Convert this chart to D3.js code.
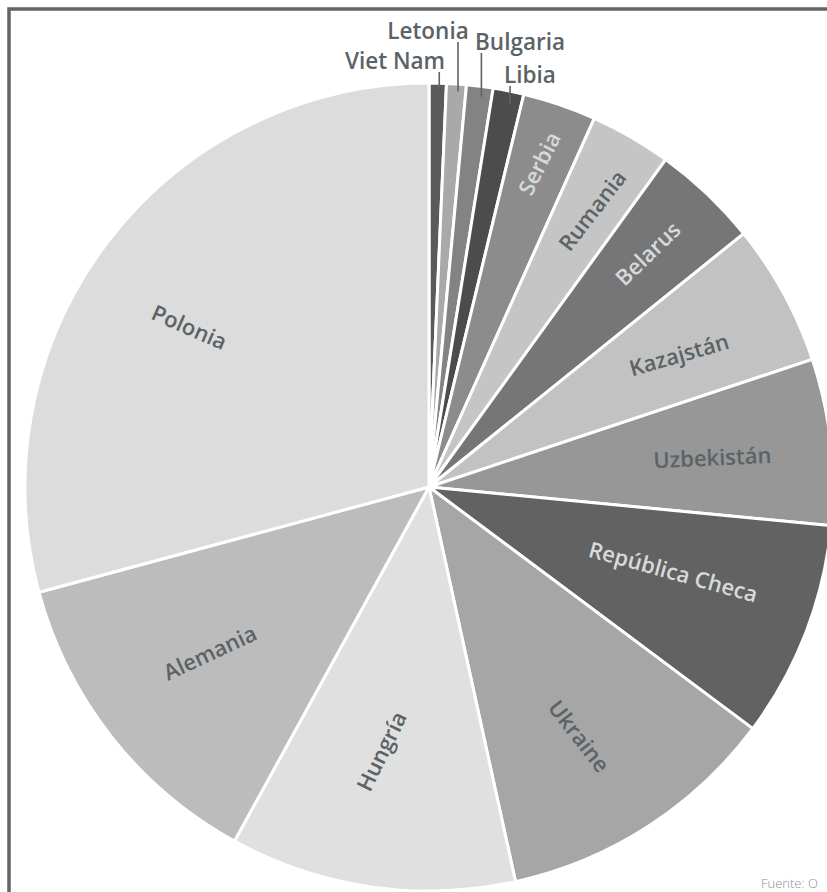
<!DOCTYPE html>
<html>
<head>
<meta charset="utf-8">
<script src="https://cdn.jsdelivr.net/npm/d3@7"></script>
<style>
  html, body { margin: 0; padding: 0; background: #fff; overflow: hidden; }
  svg { display: block; }
</style>
</head>
<body>
<div id="chart"></div>
<script>
// ---- data ----
const categories = ["Viet Nam", "Letonia", "Bulgaria", "Libia", "Serbia", "Rumania", "Belarus",
  "Kazajstán", "Uzbekistán", "República Checa", "Ukraine", "Hungría", "Alemania", "Polonia"];
const values = [0.69, 0.79, 1.06, 1.23, 2.94, 3.25, 4.25, 5.67, 6.64, 8.68, 11.36, 11.43, 12.81, 29.19];
const sourceText = "Fuente: O";

// ---- style / layout (kept separate from data) ----
const sliceColors = ["#5a5a5a", "#a9a9a9", "#838383", "#4c4c4c", "#8c8c8c", "#c5c5c5", "#767676",
  "#c2c2c2", "#979797", "#626262", "#a6a6a6", "#e0e0e0", "#bcbcbc", "#dcdcdc"];
const darkText = "#5b6367";
const lightText = "#d6dadc";
// inner labels: radius (fraction of r), angle offset (deg), rotation (deg), colour
const innerLayout = {
  "Serbia": [0.846, 0, -63.4, lightText],
  "Rumania": [0.795, 0.6, -52.4, darkText],
  "Belarus": [0.792, -0.3, -44, lightText],
  "Kazajstán": [0.70, 0.8, -16, darkText],
  "Uzbekistán": [0.705, 0.6, -2.7, darkText],
  "República Checa": [0.64, -1.9, 15.4, lightText],
  "Ukraine": [0.72, 1.8, 52, darkText],
  "Hungría": [0.665, 1.9, -64, darkText],
  "Alemania": [0.68, 1.0, -24.9, darkText],
  "Polonia": [0.713, -3.8, 23.7, darkText]
};
// outer labels: label centre x, baseline y
const outerLayout = {
  "Viet Nam": [395, 69],
  "Letonia": [428, 39],
  "Bulgaria": [520, 50],
  "Libia": [530, 83]
};

const W = 827, H = 892;
const cx = 429, cy = 487, R = 404;

const svg = d3.select("#chart").append("svg")
  .attr("width", W).attr("height", H);

// frame
svg.append("rect")
  .attr("x", 9).attr("y", 9)
  .attr("width", 1000).attr("height", 1000)
  .attr("fill", "none")
  .attr("stroke", "#5f6669")
  .attr("stroke-width", 3.5);

const pie = d3.pie().sort(null).value(d => d.value);
const arcs = pie(categories.map((c, i) => ({ name: c, value: values[i], color: sliceColors[i] })));
const arc = d3.arc().innerRadius(0).outerRadius(R);

const g = svg.append("g").attr("transform", `translate(${cx},${cy})`);

g.selectAll("path.slice")
  .data(arcs)
  .join("path")
  .attr("class", "slice")
  .attr("d", arc)
  .attr("fill", d => d.data.color)
  .attr("stroke", "#fff")
  .attr("stroke-width", 3)
  .attr("stroke-linejoin", "round");

const font = "'Open Sans', 'Noto Sans', sans-serif";

// inner labels
arcs.filter(d => innerLayout[d.data.name]).forEach(d => {
  const [rf, off, rot, col] = innerLayout[d.data.name];
  const a = (d.startAngle + d.endAngle) / 2 + off * Math.PI / 180;
  const x = Math.sin(a) * R * rf;
  const y = -Math.cos(a) * R * rf;
  g.append("text")
    .attr("transform", `translate(${x},${y}) rotate(${rot})`)
    .attr("text-anchor", "middle")
    .attr("dy", "0.35em")
    .attr("font-family", font)
    .attr("font-weight", 600)
    .attr("font-size", 22)
    .attr("fill", col)
    .text(d.data.name);
});

// outer labels with leader lines
arcs.filter(d => outerLayout[d.data.name]).forEach(d => {
  const [lx, ly] = outerLayout[d.data.name];
  const a = (d.startAngle + d.endAngle) / 2;
  const innerR = R - 4 - (a * 180 / Math.PI) * 0.9;
  const x = Math.sin(a) * R + 1.5;
  const yIn = -Math.cos(a) * innerR;
  svg.append("line")
    .attr("x1", cx + x).attr("x2", cx + x)
    .attr("y1", cy + yIn).attr("y2", ly + 3)
    .attr("stroke", darkText)
    .attr("stroke-width", 1.6);
  svg.append("text")
    .attr("x", lx).attr("y", ly)
    .attr("text-anchor", "middle")
    .attr("font-family", font)
    .attr("font-weight", 600)
    .attr("font-size", 22.5)
    .attr("fill", darkText)
    .text(d.data.name);
});

// source
svg.append("text")
  .attr("x", 761).attr("y", 888)
  .attr("font-family", font)
  .attr("font-weight", 300)
  .attr("font-size", 13)
  .attr("fill", "#8a8f92")
  .text(sourceText);
</script>
</body>
</html>
